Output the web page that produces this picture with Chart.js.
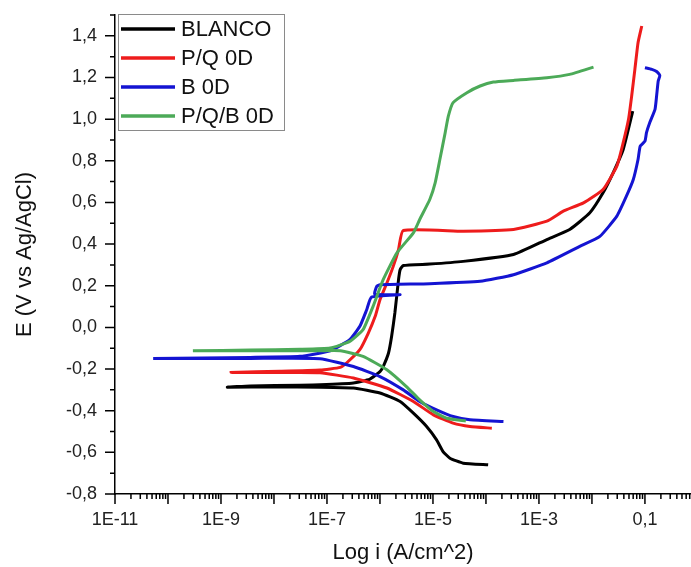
<!DOCTYPE html>
<html>
<head>
<meta charset="utf-8">
<script src="https://cdn.jsdelivr.net/npm/chart.js@4.4.1/dist/chart.umd.min.js"></script>
<style>
  html, body { margin: 0; padding: 0; background: #fff; }
  #wrap { width: 691px; height: 567px; }
</style>
</head>
<body>
<div id="wrap"><canvas id="tafel" width="691" height="567"></canvas></div>
<script>
// === DATA (current density A/cm^2, potential V vs Ag/AgCl) ===
// each curve: cathodic branch first, then back up the anodic branch
const seriesNames = ["BLANCO", "P/Q 0D", "B 0D", "P/Q/B 0D"];

const blancoI = [1.10e-4, 3.72e-5, 2.09e-5, 1.55e-5, 1.17e-5, 7.59e-6, 4.27e-6, 2.40e-6, 1.0e-6, 3.16e-7, 7.41e-8, 1.0e-8, 1.32e-9,
  3.55e-9, 3.09e-8, 7.41e-8, 3.16e-7, 6.46e-7, 1.0e-6, 1.15e-6, 1.45e-6, 1.66e-6, 1.91e-6, 2.24e-6, 2.40e-6, 2.75e-6,
  8.71e-6, 3.72e-5, 3.31e-4, 1.41e-3, 3.80e-3, 9.12e-3, 1.62e-2, 2.51e-2, 3.89e-2, 5.89e-2];
const blancoE = [-0.660, -0.652, -0.628, -0.596, -0.540, -0.476, -0.412, -0.356, -0.315, -0.291, -0.287, -0.286, -0.287,
  -0.281, -0.278, -0.276, -0.267, -0.248, -0.212, -0.188, -0.123, -0.043, 0.069, 0.229, 0.277, 0.297,
  0.304, 0.317, 0.350, 0.422, 0.470, 0.550, 0.646, 0.742, 0.854, 1.038];

const pqI = [1.29e-4, 5.01e-5, 2.40e-5, 1.02e-5, 4.27e-6, 1.35e-6, 3.16e-7, 7.41e-8, 1.29e-8, 1.55e-9,
  1.29e-8, 7.41e-8, 1.78e-7, 2.34e-7, 4.17e-7, 6.03e-7, 8.13e-7, 1.0e-6, 1.35e-6, 1.78e-6, 2.24e-6, 2.75e-6,
  3.72e-5, 3.31e-4, 1.41e-3, 2.88e-3, 6.92e-3, 1.62e-2, 2.95e-2, 3.89e-2, 4.90e-2, 5.62e-2, 6.46e-2, 7.41e-2, 8.71e-2];
const pqE = [-0.484, -0.476, -0.460, -0.420, -0.356, -0.291, -0.243, -0.218, -0.217, -0.216,
  -0.211, -0.205, -0.192, -0.171, -0.107, -0.027, 0.053, 0.133, 0.213, 0.293, 0.374, 0.465,
  0.462, 0.470, 0.510, 0.558, 0.598, 0.662, 0.774, 0.887, 0.999, 1.111, 1.239, 1.367, 1.447];

const bI = [2.14e-4, 5.01e-5, 2.40e-5, 1.17e-5, 5.62e-6, 2.75e-6, 1.0e-6, 3.16e-7, 7.41e-8, 3.55e-9, 5.25e-11,
  3.55e-9, 3.09e-8, 1.15e-7, 2.69e-7, 4.17e-7, 5.62e-7, 6.92e-7, 2.40e-6, 7.94e-7, 8.71e-7, 1.0e-6, 8.71e-6, 7.76e-5,
  3.31e-4, 1.41e-3, 5.89e-3, 1.41e-2, 2.95e-2, 4.47e-2, 6.03e-2, 7.41e-2, 8.13e-2, 0.100, 0.107, 0.123, 0.155, 0.166,
  0.178, 0.191, 0.166, 0.135, 0.100];
const bE = [-0.452, -0.444, -0.428, -0.396, -0.356, -0.300, -0.236, -0.188, -0.150, -0.149, -0.149,
  -0.144, -0.139, -0.112, -0.059, 0.005, 0.085, 0.145, 0.157, 0.160, 0.197, 0.205, 0.210, 0.221,
  0.253, 0.310, 0.389, 0.437, 0.534, 0.630, 0.710, 0.806, 0.870, 0.894, 0.935, 0.983, 1.047, 1.111,
  1.183, 1.210, 1.229, 1.239, 1.247];

const pqbI = [4.17e-5, 1.82e-5, 1.02e-5, 5.62e-6, 3.16e-6, 1.35e-6, 4.79e-7, 1.78e-7, 7.41e-8, 3.55e-9, 2.95e-10,
  3.55e-9, 3.09e-8, 1.15e-7, 2.69e-7, 4.79e-7, 7.41e-7, 1.15e-6, 2.09e-6, 4.27e-6, 5.62e-6, 8.71e-6, 1.10e-5,
  1.35e-5, 1.70e-5, 1.95e-5, 2.40e-5, 4.37e-5, 7.76e-5, 1.38e-4, 3.31e-4, 1.41e-3, 3.80e-3, 1.07e-2];
const pqbE = [-0.449, -0.436, -0.404, -0.348, -0.284, -0.203, -0.139, -0.112, -0.112, -0.112, -0.112,
  -0.109, -0.105, -0.099, -0.067, -0.011, 0.101, 0.229, 0.358, 0.454, 0.518, 0.614, 0.694,
  0.806, 0.935, 1.014, 1.079, 1.127, 1.159, 1.178, 1.186, 1.199, 1.215, 1.250];

// axis ranges and labels
const xMin = 1e-11, xMax = 0.74;
const yMin = -0.8, yMax = 1.5;
const xLabelExps = [-11, -9, -7, -5, -3, -1];
const xTitle = "Log i (A/cm^2)";
const yTitle = "E (V vs Ag/AgCl)";

const colors = ["#000000", "#ee1c1c", "#1414d2", "#4caa58"];

function zip(xs, ys) {
  return xs.map((x, i) => ({ x: x, y: ys[i] }));
}

const FONT = "'Liberation Sans', Arial, sans-serif";

function decadeExp(v) {
  const e = Math.round(Math.log10(v));
  return Math.abs(v / Math.pow(10, e) - 1) < 1e-6 ? e : null;
}

// === TICK MARKS (major / minor, outward) ===
const tickMarks = {
  id: 'tickMarks',
  afterDraw(chart) {
    const ctx = chart.ctx, a = chart.chartArea;
    const xs = chart.scales.x, ys = chart.scales.y;
    ctx.save();
    ctx.strokeStyle = '#000';
    ctx.lineWidth = 1.5;
    ctx.beginPath();
    xs.ticks.forEach(t => {
      const px = xs.getPixelForValue(t.value);
      const len = decadeExp(t.value) !== null ? 10 : 5;
      ctx.moveTo(px, a.bottom);
      ctx.lineTo(px, a.bottom + len);
    });
    ys.ticks.forEach(t => {
      const py = ys.getPixelForValue(t.value);
      const len = Math.round(t.value * 10) % 2 === 0 ? 10 : 5;
      ctx.moveTo(a.left, py);
      ctx.lineTo(a.left - len, py);
    });
    ctx.stroke();
    ctx.restore();
  }
};

// === LEGEND BOX (inside plot, top-left) ===
const boxLegend = {
  id: 'boxLegend',
  afterDraw(chart) {
    const ctx = chart.ctx, a = chart.chartArea;
    const x0 = a.left + 3, y0 = 14, w = 166, rowH = 29;
    const h = rowH * chart.data.datasets.length;
    ctx.save();
    ctx.fillStyle = '#fff';
    ctx.fillRect(x0, y0, w, h);
    ctx.strokeStyle = '#8a8a8a';
    ctx.lineWidth = 1;
    ctx.strokeRect(x0 + 0.5, y0 + 0.5, w, h);
    ctx.font = "22px " + FONT;
    ctx.textBaseline = 'middle';
    chart.data.datasets.forEach((ds, i) => {
      const cy = y0 + 15 + i * rowH;
      ctx.strokeStyle = ds.borderColor;
      ctx.lineWidth = 3.5;
      ctx.beginPath();
      ctx.moveTo(x0 + 3, cy);
      ctx.lineTo(x0 + 57, cy);
      ctx.stroke();
      ctx.fillStyle = '#111';
      ctx.fillText(ds.label, x0 + 63, cy + 1);
    });
    ctx.restore();
  }
};

const seriesData = [zip(blancoI, blancoE), zip(pqI, pqE), zip(bI, bE), zip(pqbI, pqbE)];

new Chart(document.getElementById("tafel"), {
  type: 'scatter',
  data: {
    datasets: seriesNames.map((name, i) => ({
      label: name,
      data: seriesData[i],
      showLine: true,
      borderColor: colors[i],
      backgroundColor: colors[i],
      borderWidth: 3,
      pointRadius: 0,
      tension: 0.15,
      order: 3 - i
    }))
  },
  options: {
    responsive: false,
    animation: false,
    layout: { padding: { top: 15, right: 0, bottom: 0, left: 0 } },
    plugins: {
      legend: { display: false },
      tooltip: { enabled: false }
    },
    scales: {
      x: {
        type: 'logarithmic',
        min: xMin,
        max: xMax,
        afterBuildTicks(scale) {
          const ticks = [];
          for (let e = -11; e <= 0; e++) {
            for (let m = 1; m <= 9; m++) {
              const v = m * Math.pow(10, e);
              if (v >= xMin * 0.999 && v <= xMax) ticks.push({ value: v });
            }
          }
          scale.ticks = ticks;
        },
        afterFit(scale) {
          scale.height = 73;
          scale.paddingLeft = 0;
          scale.paddingRight = 0;
        },
        grid: { display: false, drawTicks: false },
        border: { display: true, color: '#000', width: 1.5 },
        ticks: {
          autoSkip: false,
          maxRotation: 0,
          padding: 15,
          color: '#222',
          font: { family: FONT, size: 18 },
          callback(value) {
            const e = decadeExp(value);
            if (e === null || xLabelExps.indexOf(e) < 0) return '';
            return e === -1 ? '0,1' : '1E' + e;
          }
        },
        title: {
          display: true,
          text: xTitle,
          color: '#111',
          padding: 1,
          font: { family: FONT, size: 22 }
        }
      },
      y: {
        min: yMin,
        max: yMax,
        afterFit(scale) {
          scale.width = 115;
          scale.paddingTop = 0;
          scale.paddingBottom = 0;
        },
        grid: { display: false, drawTicks: false },
        border: { display: true, color: '#000', width: 1.5 },
        ticks: {
          stepSize: 0.1,
          autoSkip: false,
          padding: 18,
          color: '#222',
          font: { family: FONT, size: 18 },
          callback(value) {
            const k = Math.round(value * 10);
            if (k % 2 !== 0) return '';
            return (k / 10).toFixed(1).replace('.', ',');
          }
        },
        title: {
          display: true,
          text: yTitle,
          color: '#111',
          padding: 12,
          font: { family: FONT, size: 22 }
        }
      }
    }
  },
  plugins: [tickMarks, boxLegend]
});
</script>
</body>
</html>
